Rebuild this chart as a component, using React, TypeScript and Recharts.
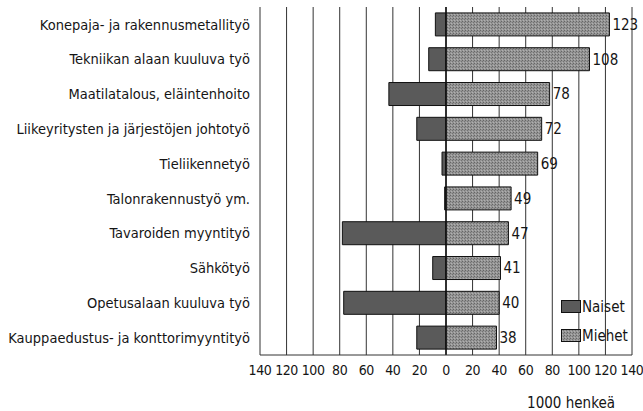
// Ammatit sukupuolen mukaan: naiset vasemmalle, miehet oikealle (1000 henkeä)

import { BarChart, Bar, XAxis, YAxis, CartesianGrid, ReferenceLine, LabelList } from 'recharts';

const categories = [
  'Konepaja- ja rakennusmetallityö',
  'Tekniikan alaan kuuluva työ',
  'Maatilatalous, eläintenhoito',
  'Liikeyritysten ja järjestöjen johtotyö',
  'Tieliikennetyö',
  'Talonrakennustyö ym.',
  'Tavaroiden myyntityö',
  'Sähkötyö',
  'Opetusalaan kuuluva työ',
  'Kauppaedustus- ja konttorimyyntityö',
];

const naiset = [8, 13, 43, 22, 3, 1, 78, 10, 77, 22];
const miehet = [123, 108, 78, 72, 69, 49, 47, 41, 40, 38];

const xTicks = [-140, -120, -100, -80, -60, -40, -20, 0, 20, 40, 60, 80, 100, 120, 140];

const data = categories.map((name, i) => ({
  name,
  naiset: -naiset[i],
  miehet: miehet[i],
}));

const FONT = '"DejaVu Sans", sans-serif';
const INK = '#151515';

function LegendBox() {
  const item = (label: string, fill: string) => (
    <div style={{ display: 'flex', alignItems: 'center', height: 29 }}>
      <svg width={20} height={14} style={{ marginRight: 1 }}>
        <rect x={0.5} y={0.5} width={19} height={12} fill={fill} stroke="#111" />
      </svg>
      <span style={{ fontSize: 15, color: INK }}>{label}</span>
    </div>
  );
  return (
    <div style={{ position: 'absolute', left: 561, top: 292 }}>
      {item('Naiset', '#5a5a5a')}
      {item('Miehet', 'url(#stipple)')}
    </div>
  );
}

export default function App() {
  return (
    <div
      style={{
        position: 'absolute',
        left: 0,
        top: 0,
        width: 643,
        height: 411,
        background: '#fff',
        fontFamily: FONT,
        fontStretch: 'condensed',
      }}
    >
      <BarChart
        width={643}
        height={411}
        data={data}
        layout="vertical"
        stackOffset="sign"
        barCategoryGap="17%"
        margin={{ top: 7, right: 11, bottom: 31, left: 0 }}
      >
        <defs>
          <pattern id="stipple" width="3" height="3" patternUnits="userSpaceOnUse">
            <rect width="3" height="3" fill="#959595" />
            <rect x="0" y="0" width="1" height="1" fill="#666" />
            <rect x="2" y="1" width="1" height="1" fill="#747474" />
            <rect x="1" y="2" width="1" height="1" fill="#b0b0b0" />
          </pattern>
        </defs>
        <CartesianGrid horizontal={false} vertical stroke="#333" strokeWidth={1} />
        <XAxis
          type="number"
          domain={[-140, 140]}
          ticks={xTicks}
          tickFormatter={(v: number) => String(Math.abs(v))}
          tick={{ fill: INK, fontSize: 14, letterSpacing: -0.4 }}
          tickLine={false}
          tickSize={0}
          tickMargin={10}
          axisLine={{ stroke: '#333' }}
          height={25}
          interval={0}
        />
        <YAxis
          type="category"
          dataKey="name"
          width={260}
          tick={{ fill: INK, fontSize: 14.5 }}
          tickLine={false}
          axisLine={false}
          tickSize={0}
          tickMargin={10}
          interval={0}
        />
        <Bar dataKey="naiset" name="Naiset" stackId="a" fill="#5a5a5a" stroke="#111" strokeWidth={1} isAnimationActive={false} />
        <Bar dataKey="miehet" name="Miehet" stackId="a" fill="url(#stipple)" stroke="#111" strokeWidth={1} isAnimationActive={false}>
          <LabelList dataKey="miehet" position="right" offset={3} fill={INK} fontSize={15} />
        </Bar>
        <ReferenceLine x={0} stroke="#111" strokeWidth={1.5} />
      </BarChart>
      <LegendBox />
      <div style={{ position: 'absolute', right: 28, top: 394, fontSize: 15, color: INK }}>1000 henkeä</div>
    </div>
  );
}
